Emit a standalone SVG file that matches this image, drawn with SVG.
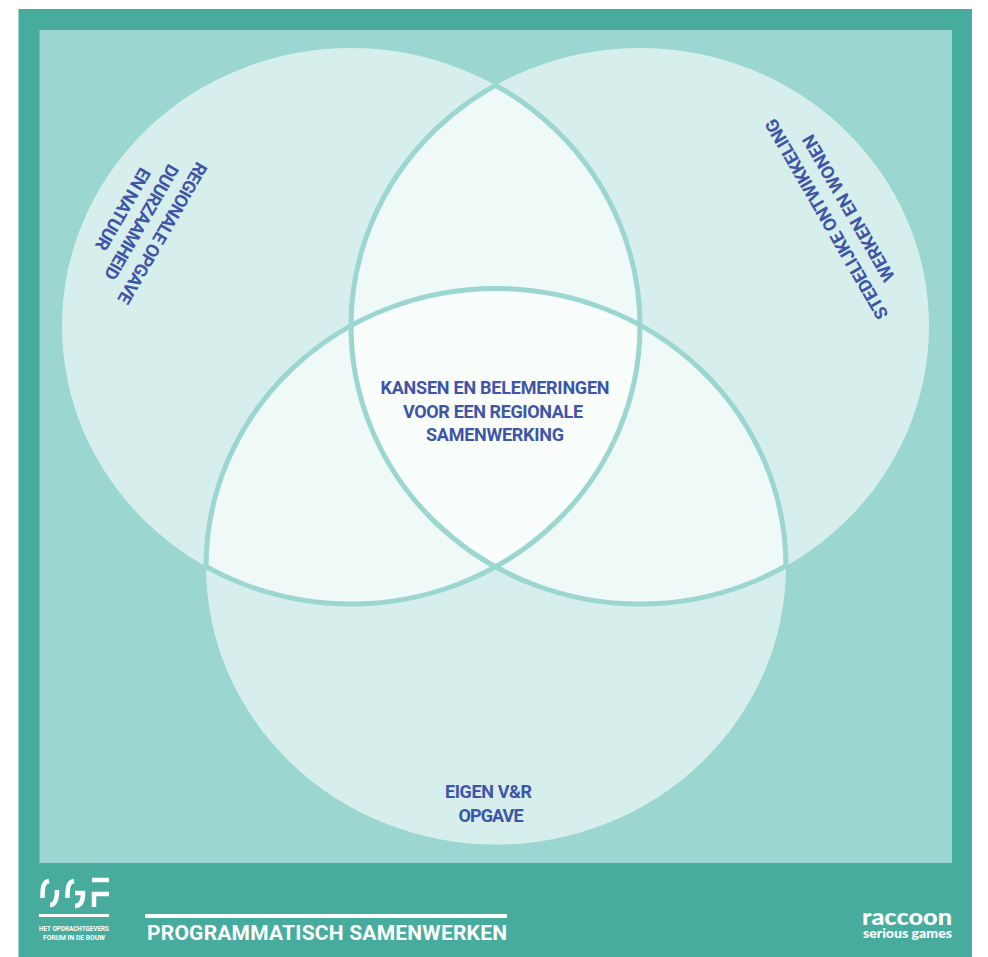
<svg xmlns="http://www.w3.org/2000/svg" width="988" height="957" viewBox="0 0 988 957">
<style>
.set{fill:#fff;fill-opacity:.6}
.arc{fill:none;stroke:#9BD6D0;stroke-width:5}
.lbl{font-family:"Roboto","Liberation Sans",sans-serif;font-weight:700;font-size:18px;fill:#3F55A8;text-anchor:middle}
.wt{font-family:"Roboto","Liberation Sans",sans-serif;font-weight:700;fill:#fff}
.ns{font-family:"Lato","Liberation Sans",sans-serif;font-weight:900;fill:#fff}
.mark{fill:none;stroke:#fff;stroke-width:4.500}
</style>
<defs>
<clipPath id="c-l"><ellipse cx="640" cy="326" rx="289" ry="278"/><ellipse cx="496" cy="566.500" rx="290" ry="278"/></clipPath>
<clipPath id="c-r"><ellipse cx="351" cy="326" rx="289" ry="278"/><ellipse cx="496" cy="566.500" rx="290" ry="278"/></clipPath>
<clipPath id="c-b"><ellipse cx="351" cy="326" rx="289" ry="278"/><ellipse cx="640" cy="326" rx="289" ry="278"/></clipPath>
</defs>
<rect width="988" height="957" fill="#fff"/>
<rect x="18.500" y="9" width="953.500" height="948" fill="#47AC9D"/>
<rect x="39.500" y="30" width="912.500" height="833" fill="#9BD6D0"/>
<g id="set-regionale">
<ellipse class="set" cx="351" cy="326" rx="289" ry="278"/>
</g>
<g id="set-stedelijke">
<ellipse class="set" cx="640" cy="326" rx="289" ry="278"/>
</g>
<g id="set-eigen">
<ellipse class="set" cx="496" cy="566.500" rx="290" ry="278"/>
</g>
<g id="outlines">
<ellipse class="arc" cx="351" cy="326" rx="289" ry="278" clip-path="url(#c-l)"/>
<ellipse class="arc" cx="640" cy="326" rx="289" ry="278" clip-path="url(#c-r)"/>
<ellipse class="arc" cx="496" cy="566.500" rx="290" ry="278" clip-path="url(#c-b)"/>
</g>
<g id="label-regionale">
<text class="lbl" transform="translate(157 230) rotate(120)" textLength="160" lengthAdjust="spacing">REGIONALE OPGAVE</text>
<text class="lbl" transform="translate(136 219) rotate(120)" textLength="130" lengthAdjust="spacing">DUURZAAMHEID</text>
<text class="lbl" transform="translate(117.500 206) rotate(120)" textLength="92" lengthAdjust="spacing">EN NATUUR</text>
</g>
<g id="label-stedelijke">
<text class="lbl" transform="translate(832 216) rotate(-120)" textLength="228" lengthAdjust="spacing">STEDELIJKE ONTWIKKELING</text>
<text class="lbl" transform="translate(854 205) rotate(-120)" textLength="166" lengthAdjust="spacing">WERKEN EN WONEN</text>
</g>
<g id="label-centrum">
<text class="lbl" x="495" y="394" textLength="229" lengthAdjust="spacing">KANSEN EN BELEMERINGEN</text>
<text class="lbl" x="493" y="418" textLength="180" lengthAdjust="spacing">VOOR EEN REGIONALE</text>
<text class="lbl" x="495" y="441" textLength="138" lengthAdjust="spacing">SAMENWERKING</text>
</g>
<g id="label-eigen">
<text class="lbl" x="488.500" y="797.500" textLength="87" lengthAdjust="spacing">EIGEN V&amp;R</text>
<text class="lbl" x="491" y="821.500" textLength="65" lengthAdjust="spacing">OPGAVE</text>
</g>
<g id="logo-ogf">
<path class="mark" d="M49 881 C43 882 42.500 887 42.500 898"/>
<path class="mark" d="M50 905 C55 905 57 900 57 890"/>
<path class="mark" d="M74 881 C68 882 67.500 887 67.500 898"/>
<path class="mark" d="M75 906 C81 906 83 901 83 893 L75 893"/>
<path class="mark" d="M92 880 H109 M94 907 V894 H109"/>
<rect x="39" y="914" width="70" height="3" fill="#fff"/>
<text class="wt" x="74" y="931" font-size="8" text-anchor="middle" textLength="70" lengthAdjust="spacingAndGlyphs">HET OPDRACHTGEVERS</text>
<text class="wt" x="74" y="940" font-size="8" text-anchor="middle" textLength="62" lengthAdjust="spacingAndGlyphs">FORUM IN DE BOUW</text>
</g>
<g id="title">
<rect x="145" y="914" width="362" height="4" fill="#fff"/>
<text class="wt" x="147" y="940" font-size="21" textLength="360" lengthAdjust="spacing">PROGRAMMATISCH SAMENWERKEN</text>
</g>
<g id="logo-raccoon">
<text class="ns" x="862" y="925" font-size="23" textLength="90" lengthAdjust="spacingAndGlyphs">raccoon</text>
<text class="ns" x="863" y="938" font-size="13" textLength="89" lengthAdjust="spacingAndGlyphs">serious games</text>
</g>
</svg>
